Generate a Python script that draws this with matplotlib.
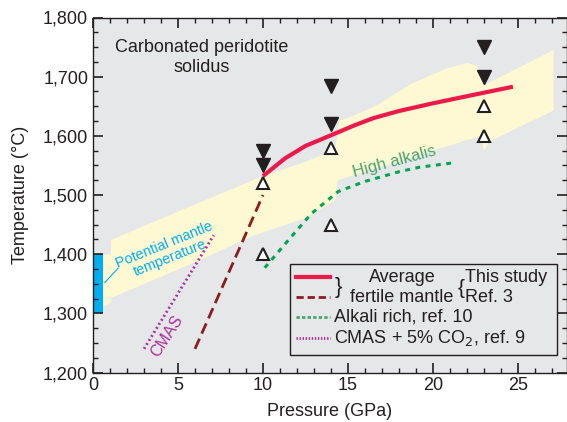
import numpy as np
import matplotlib.pyplot as plt
from matplotlib.lines import Line2D
from matplotlib.patches import Rectangle

plt.rcParams['font.family'] = ['Liberation Sans', 'DejaVu Sans']

# yellow band (potential mantle adiabat envelope)
band_upper_p = [0.6, 1.06, 1.06, 5.9, 10.0, 12.2, 14.24, 14.5, 15.4, 16.6, 18.8, 20.8, 22.0,
                22.6, 23.0, 23.3, 27.1]
band_upper_t = [1399, 1400, 1424, 1483, 1532, 1553, 1576, 1625, 1635, 1650, 1689, 1714, 1723,
                1718, 1683, 1690, 1745]
band_lower_p = [0.6, 1.06, 1.06, 5.9, 9.5, 12.5, 14.24, 14.4, 15.4, 18.8, 22.0, 22.8, 23.0,
                23.3, 27.1]
band_lower_t = [1311, 1318, 1326, 1385, 1432, 1461, 1491, 1525, 1534, 1564, 1593, 1598, 1575,
                1590, 1643]

# solidus curves
this_study_p = [10, 11.3, 12.5, 14, 15.4, 16.5, 18, 20, 22, 24.7]
this_study_t = [1532, 1562, 1583, 1601, 1618, 1630, 1642, 1655, 1667, 1683]
ref3_p = [6.0, 10.0]
ref3_t = [1240, 1500]
alkali_p = [10.1, 11.5, 12.86, 14.43, 16.0, 17.96, 19.2, 21.1]
alkali_t = [1377, 1424, 1469, 1506, 1523, 1539, 1547, 1554]
cmas_p = [3.0, 7.1]
cmas_t = [1240, 1432]

# experiments
above_p = [10, 10, 14, 14, 23, 23]
above_t = [1575, 1550, 1685, 1620, 1750, 1700]
below_p = [10, 10, 14, 14, 23, 23]
below_t = [1520, 1400, 1580, 1450, 1650, 1600]

# potential mantle temperature range
tp_range = [1300, 1400]

red = '#ec1a4b'
darkred = '#8e1b1e'
green = '#00a650'
magenta = '#b02fa0'
cyan = '#00aeef'
txt = '#231f20'
fs = 13

fig = plt.figure(figsize=(5.67, 4.22), dpi=100)
ax = fig.add_axes([93 / 567, 49.5 / 422, 473.5 / 567, 355 / 422])
ax.set_facecolor('#e6e7e8')

ax.fill(band_upper_p + band_lower_p[::-1], band_upper_t + band_lower_t[::-1],
        color='#fef9d3', lw=0, zorder=1)
ax.add_patch(Rectangle((0, tp_range[0]), 0.6, tp_range[1] - tp_range[0],
                       color=cyan, lw=0, zorder=2))

ax.plot(ref3_p, ref3_t, color=darkred, lw=2, dashes=(4, 2), zorder=3)
ax.plot(cmas_p, cmas_t, color=magenta, lw=2, dashes=(0.7, 1.0), zorder=3)
ax.plot(alkali_p, alkali_t, color=green, lw=2.2, dashes=(1.6, 1.8), zorder=3)
ax.plot(this_study_p, this_study_t, color=red, lw=3, solid_capstyle='butt', zorder=4)

ax.plot(above_p, above_t, 'v', color=txt, ms=10, zorder=5)
ax.plot(below_p, below_t, '^', mfc='white', mec=txt, mew=1.5, ms=9, zorder=5)

ax.text(6.4, 1732, 'Carbonated peridotite\nsolidus', ha='center', va='center',
        fontsize=fs, color=txt, linespacing=1.25)
ax.text(17.7, 1557, 'High alkalis', rotation=15, ha='center', va='center',
        fontsize=12, color='#4aa56e')
ax.text(4.35, 1404, 'Potential mantle\ntemperature', rotation=22, ha='center', va='center',
        fontsize=10.3, color=cyan, linespacing=1.0, rotation_mode='anchor')
ax.plot([0.69, 1.47], [1352, 1376], color=cyan, lw=0.8, zorder=3)
ax.text(4.35, 1262, 'CMAS', rotation=57, ha='center', va='center',
        fontsize=11.5, color=magenta, rotation_mode='anchor')

# legend, drawn by hand in axes fraction
def fx(px):
    return (px - 93) / 473.5

def fy(py):
    return (372.5 - py) / 355

tr = ax.transAxes
ax.add_patch(Rectangle((fx(290), fy(355)), fx(557) - fx(290), fy(264) - fy(355),
                       transform=tr, fill=False, ec=txt, lw=1, zorder=6))
ax.add_line(Line2D([fx(296), fx(330)], [fy(277)] * 2, transform=tr, color=red, lw=3, zorder=6))
ax.add_line(Line2D([fx(296), fx(330)], [fy(297)] * 2, transform=tr, color=darkred, lw=2,
                   dashes=(2.6, 1.4), zorder=6))
ax.add_line(Line2D([fx(296), fx(330)], [fy(317)] * 2, transform=tr, color='#4aa56e', lw=2,
                   dashes=(1.2, 0.8), zorder=6))
ax.add_line(Line2D([fx(296), fx(330)], [fy(338)] * 2, transform=tr, color=magenta, lw=2,
                   dashes=(0.5, 0.6), zorder=6))
ax.text(fx(338), fy(288), '}', transform=tr, ha='center', va='center', fontsize=16,
        color=txt, zorder=6)
ax.text(fx(402), fy(277), 'Average', transform=tr, ha='center', va='center', fontsize=fs,
        color=txt, zorder=6)
ax.text(fx(402), fy(297), 'fertile mantle', transform=tr, ha='center', va='center',
        fontsize=fs, color=txt, zorder=6)
ax.text(fx(461), fy(288), '{', transform=tr, ha='center', va='center', fontsize=15,
        color=txt, zorder=6)
ax.text(fx(465), fy(277), 'This study', transform=tr, ha='left', va='center', fontsize=fs,
        color=txt, zorder=6)
ax.text(fx(465), fy(297), 'Ref. 3', transform=tr, ha='left', va='center', fontsize=fs,
        color=txt, zorder=6)
ax.text(fx(334), fy(317), 'Alkali rich, ref. 10', transform=tr, ha='left', va='center',
        fontsize=fs, color=txt, zorder=6)
ax.text(fx(334), fy(338), 'CMAS + 5% CO$_2$, ref. 9', transform=tr, ha='left', va='center',
        fontsize=fs, color=txt, zorder=6)

ax.set_xlim(0, 27.85)
ax.set_ylim(1200, 1800)
ax.set_xticks(np.arange(0, 26, 5))
ax.set_xticks(np.arange(0, 28, 1), minor=True)
ax.set_yticks(np.arange(1200, 1801, 100))
ax.set_yticks(np.arange(1200, 1801, 25), minor=True)
ax.set_yticklabels([f'{v:,}' for v in range(1200, 1801, 100)])
ax.tick_params(which='both', direction='in', top=True, right=True, color=txt,
               labelsize=fs, labelcolor=txt, zorder=7)
ax.tick_params(which='major', length=7, width=1.2)
ax.tick_params(which='minor', length=3.5, width=1)
for s in ax.spines.values():
    s.set_color(txt)
    s.set_linewidth(1)
    s.set_zorder(8)
ax.set_axisbelow(False)

ax.set_xlabel('Pressure (GPa)', fontsize=fs, color=txt, labelpad=6)
ax.set_ylabel('Temperature (°C)', fontsize=fs, color=txt, labelpad=10)

fig.savefig('out.png', dpi=100)
